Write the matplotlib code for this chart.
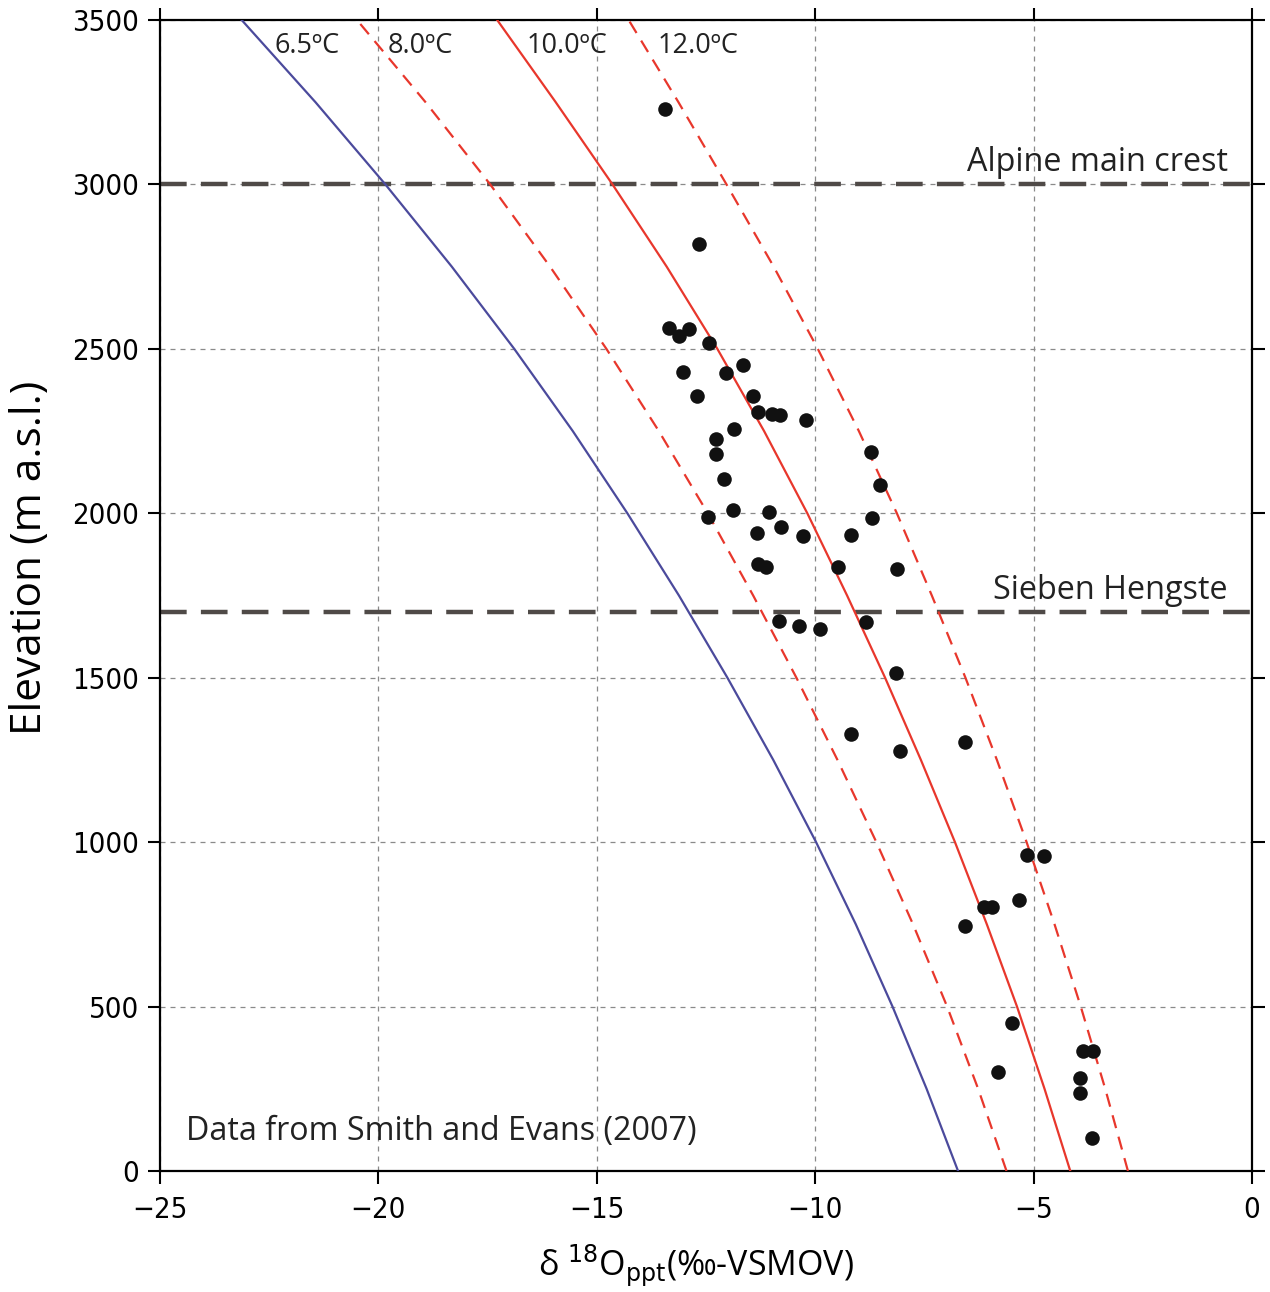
import matplotlib
matplotlib.use("Agg")
import matplotlib.pyplot as plt

# ---- data ----
elev_curve = [0, 250, 500, 750, 1000, 1250, 1500, 1750, 2000, 2250, 2500, 2750, 3000, 3250, 3500]
d18o_65 = [-6.73, -7.45, -8.23, -9.07, -9.98, -10.96, -12.01, -13.12, -14.30,
           -15.55, -16.89, -18.32, -19.84, -21.44, -23.13]
d18o_80 = [-5.62, -6.27, -6.98, -7.76, -8.60, -9.49, -10.43, -11.42, -12.46,
           -13.58, -14.78, -16.07, -17.44, -18.92, -20.49]
d18o_100 = [-4.16, -4.75, -5.38, -6.07, -6.80, -7.58, -8.40, -9.27, -10.18,
            -11.17, -12.24, -13.40, -14.64, -15.94, -17.28]
d18o_120 = [-2.84, -3.36, -3.92, -4.52, -5.16, -5.84, -6.56, -7.33, -8.13,
            -9.00, -9.94, -10.95, -12.03, -13.13, -14.27]

curve_labels = ["6.5ºC", "8.0ºC", "10.0ºC", "12.0ºC"]
curve_label_x = [-22.37, -19.78, -16.6, -13.6]

# Smith and Evans (2007) samples
obs_d18o = [-13.44, -12.66, -13.35, -13.12, -12.89, -12.42, -13.02, -12.04, -11.65,
            -12.70, -11.42, -11.32, -11.00, -10.80, -10.21, -11.85, -12.27, -12.27,
            -12.08, -12.46, -11.88, -11.06, -11.33, -10.78, -10.29, -11.32, -11.13,
            -8.73, -8.52, -8.71, -9.18, -9.48, -8.12, -10.83, -10.38, -9.90, -8.83,
            -8.14, -9.18, -8.06, -6.57, -5.14, -4.76, -6.56, -6.14, -5.95, -5.33,
            -5.49, -5.82, -3.86, -3.63, -3.94, -3.94, -3.67]
obs_elev = [3228, 2819, 2562, 2539, 2559, 2517, 2429, 2428, 2451,
            2358, 2357, 2307, 2302, 2298, 2284, 2256, 2225, 2180,
            2103, 1990, 2010, 2004, 1939, 1959, 1932, 1845, 1838,
            2187, 2086, 1985, 1935, 1838, 1832, 1673, 1658, 1649, 1668,
            1515, 1329, 1277, 1305, 961, 959, 746, 802, 802, 825,
            450, 301, 365, 365, 284, 237, 100]

ref_levels = [3000, 1700]
ref_names = ["Alpine main crest", "Sieben Hengste"]

# ---- plot ----
txt_font = ["Open Sans", "DejaVu Sans"]

fig = plt.figure(figsize=(12.7, 12.92), dpi=100)
ax = fig.add_axes([0.126, 0.0937, 0.8598, 0.8908])

red = "#e8372c"
ax.plot(d18o_65, elev_curve, color="#4b4a9c", lw=1.6, zorder=3)
ax.plot(d18o_80, elev_curve, color=red, lw=1.6, ls=(0, (6, 4)), zorder=3)
ax.plot(d18o_100, elev_curve, color=red, lw=1.6, zorder=3)
ax.plot(d18o_120, elev_curve, color=red, lw=1.6, ls=(0, (6, 4)), zorder=3)

for lvl, name in zip(ref_levels, ref_names):
    ax.axhline(lvl, color="#4f4a47", lw=3.2, ls=(0, (6, 3.2)), zorder=2)
    ax.text(-0.55, lvl + 16, name, ha="right", va="bottom",
            fontsize=23.3, family=txt_font, color="#222222")

for lab, xl in zip(curve_labels, curve_label_x):
    ax.text(xl, 3420, lab, ha="left", va="center", fontsize=19.5,
            family=txt_font, color="#222222")

ax.scatter(obs_d18o, obs_elev, s=110, color="#111111", zorder=4, linewidths=0)

ax.text(-24.4, 119, "Data from Smith and Evans (2007)", ha="left", va="center",
        fontsize=23.2, family=txt_font, color="#222222")

ax.set_xlim(-25, 0)
ax.set_ylim(0, 3500)
ax.set_xticks([-25, -20, -15, -10, -5, 0])
ax.set_yticks(range(0, 3501, 500))
ax.grid(True, color="#8a8a8a", lw=0.9, ls=(0, (4, 4)), zorder=1)

for s in ax.spines.values():
    s.set_linewidth(1.6)
ax.tick_params(axis="both", direction="out", length=9, width=1.5, top=True,
               right=True, labelsize=21)
ax.tick_params(axis="x", pad=9)
ax.tick_params(axis="y", pad=6)
for lab in ax.get_xticklabels() + ax.get_yticklabels():
    lab.set_family("DejaVu Sans")
    lab.set_fontstretch("condensed")

ax.set_ylabel("Elevation (m a.s.l.)", fontsize=30.5, family=txt_font)
ax.yaxis.set_label_coords(-0.1, 0.533)
ax.set_xlabel(r"δ $^{18}$O$_{\mathrm{ppt}}$(‰-VSMOV)", fontsize=24.5,
              family=txt_font)
ax.xaxis.set_label_coords(0.491, -0.062)

fig.savefig("out.png", dpi=100)
